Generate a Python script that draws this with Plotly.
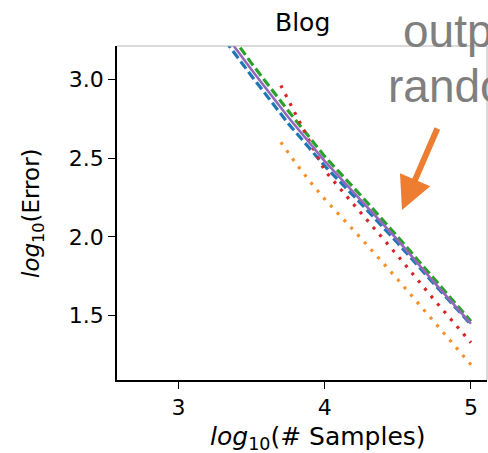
import plotly.graph_objects as go

# ---- data ----
x_full = [3.0, 3.25, 3.5, 3.75, 4.0, 4.25, 4.5, 4.75, 5.0]
blue_vals = [3.64, 3.33, 3.02, 2.72, 2.45, 2.21, 1.96, 1.70, 1.445]
green_vals = [3.73, 3.42, 3.10, 2.80, 2.51, 2.26, 2.00, 1.73, 1.465]
purple_vals = [3.68, 3.37, 3.06, 2.76, 2.48, 2.23, 1.98, 1.71, 1.45]

x_part = [3.7, 3.8, 3.9, 4.0, 4.25, 4.5, 4.75, 5.0]
red_vals = [2.96, 2.78, 2.60, 2.42, 2.15, 1.88, 1.60, 1.33]
orange_vals = [2.60, 2.47, 2.35, 2.24, 1.99, 1.73, 1.46, 1.19]

x_ticks = [3, 4, 5]
y_ticks = [1.5, 2.0, 2.5, 3.0]
y_tick_text = ["1.5", "2.0", "2.5", "3.0"]

# ---- figure ----
W, H = 488, 453
L, R, T, B = 117, 1, 46, 73
PW, PH = W - L - R, H - T - B

def px(x):
    return (x - L) / PW

def py(y):
    return (H - B - y) / PH

fig = go.Figure()
fig.add_trace(go.Scatter(x=x_full, y=blue_vals, mode="lines",
                         line=dict(color="#1f77b4", width=3.2, dash="9px,4px")))
fig.add_trace(go.Scatter(x=x_part, y=orange_vals, mode="lines",
                         line=dict(color="#f5902a", width=3.2, dash="3px,7px")))
fig.add_trace(go.Scatter(x=x_full, y=green_vals, mode="lines",
                         line=dict(color="#2ca02c", width=3.2, dash="9px,4px")))
fig.add_trace(go.Scatter(x=x_part, y=red_vals, mode="lines",
                         line=dict(color="#d62728", width=3.2, dash="3px,7px")))
fig.add_trace(go.Scatter(x=x_full, y=purple_vals, mode="lines",
                         line=dict(color="#9467bd", width=2.6)))

tick_font = dict(family="DejaVu Sans", size=22, color="black")

fig.update_layout(
    width=W, height=H,
    margin=dict(l=L, r=R, t=T, b=B, pad=0),
    paper_bgcolor="white", plot_bgcolor="white",
    showlegend=False,
    xaxis=dict(range=[2.58, 5.11], tickvals=x_ticks, ticks="outside", ticklen=7,
               tickwidth=1.3, tickcolor="black", showline=True, linecolor="black",
               linewidth=1.5, showgrid=False, zeroline=False, tickfont=tick_font),
    yaxis=dict(range=[1.093, 3.21], tickvals=y_ticks, ticktext=y_tick_text,
               ticks="outside", ticklen=7, tickwidth=1.3, tickcolor="black",
               showline=True, linecolor="black", linewidth=1.5, showgrid=False,
               zeroline=False, tickfont=tick_font),
)

# light frame on top / right
fig.add_shape(type="line", xref="paper", yref="paper", x0=0, x1=1, y0=1, y1=1,
              line=dict(color="#b5b5b5", width=1))
fig.add_shape(type="line", xref="paper", yref="paper", x0=1, x1=1, y0=0, y1=1,
              line=dict(color="#b5b5b5", width=1))

# title
fig.add_annotation(text="Blog", xref="paper", yref="paper", x=0.5, y=py(22),
                   xanchor="center", yanchor="middle", showarrow=False,
                   font=dict(family="DejaVu Sans", size=25, color="black"))
# axis labels
fig.add_annotation(text="<i>log</i><sub>10</sub>(# Samples)", xref="paper", yref="paper",
                   x=px(318), y=py(438), xanchor="center", yanchor="middle",
                   showarrow=False, font=dict(family="DejaVu Sans", size=25, color="black"))
fig.add_annotation(text="<i>log</i><sub>10</sub>(Error)", xref="paper", yref="paper",
                   x=px(33), y=py(213), xanchor="center", yanchor="middle", textangle=-90,
                   showarrow=False, font=dict(family="DejaVu Sans", size=23, color="black"))

# grey slide text, cut at the right edge as in the reference
fig.add_annotation(text="outp", xref="paper", yref="paper", x=px(401), y=py(31),
                   xanchor="left", yanchor="middle", showarrow=False,
                   font=dict(family="Liberation Sans", size=46, color="#7f7f7f"))
fig.add_annotation(text="rando", xref="paper", yref="paper", x=px(386), y=py(86),
                   xanchor="left", yanchor="middle", showarrow=False,
                   font=dict(family="Liberation Sans", size=46, color="#7f7f7f"))

# orange arrow
fig.add_annotation(text="", xref="paper", yref="paper", x=px(402), y=py(210),
                   ax=36, ay=-83, showarrow=True, arrowhead=2, arrowsize=1.1,
                   arrowwidth=6, arrowcolor="#ed7d31", standoff=0)

fig.write_html("out.html")
